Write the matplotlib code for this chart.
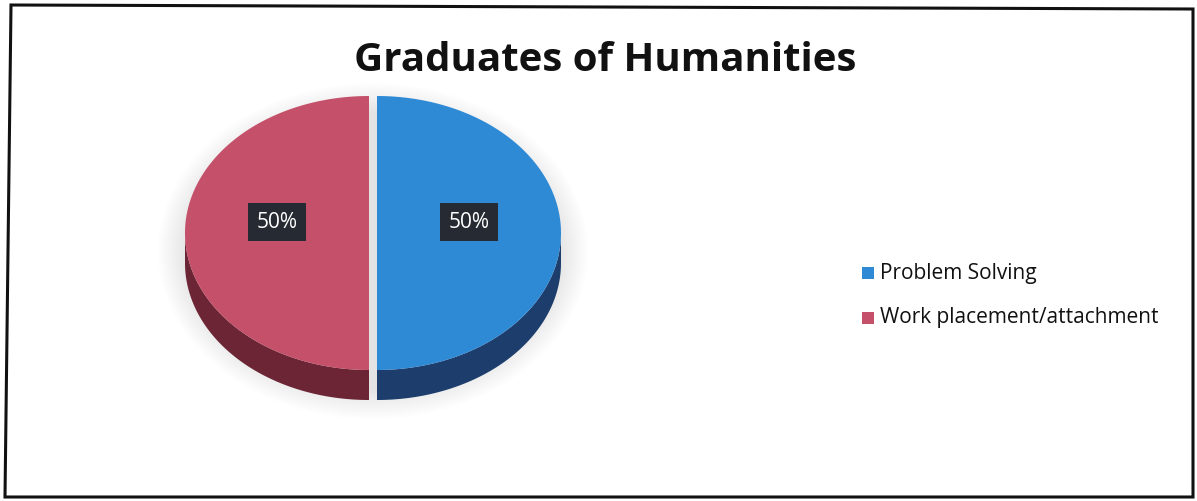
import matplotlib.pyplot as plt
import numpy as np
from matplotlib.patches import Polygon, Rectangle

categories = ["Problem Solving", "Work placement/attachment"]
shares = [50, 50]
pct_labels = ["50%", "50%"]

TOP_COLORS = ["#2f8ad6", "#c4506a"]
SIDE_COLORS = ["#1d3e6c", "#6b2535"]

W, H = 1197, 501
CX, CY = 373, 233          # centre of the pie's top face (pixels)
RX, RY = 184, 137          # ellipse radii
DEPTH = 30                 # thickness of the disc
EXPLODE = 4


def ellipse_pts(a0, a1, dx, dy, n=200):
    t = np.radians(np.linspace(a0, a1, n))
    return CX + dx + RX * np.cos(t), CY + dy - RY * np.sin(t)


fig = plt.figure(figsize=(W / 100, H / 100), dpi=100)
ax = fig.add_axes([0, 0, 1, 1])
ax.set_xlim(0, W)
ax.set_ylim(H, 0)
ax.axis("off")

# soft shadow beneath the disc
t = np.linspace(0, 2 * np.pi, 200)
for k in range(14):
    grow = 2 + k * 2.2
    ax.fill(CX + (RX + grow) * np.cos(t), CY + DEPTH * 0.6 + (RY + grow) * np.sin(t),
            color="#9aa0a8", alpha=0.018, lw=0, zorder=1)

# wedges go clockwise from 12 o'clock
total = sum(shares)
start = 90.0
for i, (val, top, side) in enumerate(zip(shares, TOP_COLORS, SIDE_COLORS)):
    sweep = 360.0 * val / total
    a1 = start
    a0 = start - sweep
    mid = np.radians((a0 + a1) / 2)
    dx = EXPLODE * np.cos(mid)
    dy = -EXPLODE * np.sin(mid)

    # front side wall: the part of the arc facing the viewer (180..360 deg)
    for base in (-360, 0, 360):
        s, e = max(a0, 180 + base), min(a1, 360 + base)
        if e <= s:
            continue
        xs, ys = ellipse_pts(s, e, dx, dy)
        px = np.concatenate([xs, xs[::-1]])
        py = np.concatenate([ys, ys[::-1] + DEPTH])
        ax.add_patch(Polygon(np.column_stack([px, py]), closed=True,
                             facecolor=side, edgecolor="none", zorder=2))

    # cut faces along the radii that point towards the viewer
    seam_x = CX + dx
    for ang in (a0, a1):
        ex, ey = ellipse_pts(ang, ang, dx, dy, n=1)
        if np.sin(np.radians(ang)) < 0:
            ax.add_patch(Polygon([[seam_x, CY + dy], [ex[0], ey[0]],
                                  [ex[0], ey[0] + DEPTH], [seam_x, CY + dy + DEPTH]],
                                 closed=True, facecolor=side, edgecolor="none", zorder=2))

    xs, ys = ellipse_pts(a0, a1, dx, dy)
    px = np.concatenate([[CX + dx], xs])
    py = np.concatenate([[CY + dy], ys])
    ax.add_patch(Polygon(np.column_stack([px, py]), closed=True,
                         facecolor=top, edgecolor="none", zorder=3))

    lx = CX + dx + 0.5 * RX * np.cos(mid)
    ly = CY + dy - 0.5 * RY * np.sin(mid) - 11
    ax.text(lx, ly, pct_labels[i], color="white", fontsize=15,
            family="Open Sans", ha="center", va="center", zorder=5,
            bbox=dict(boxstyle="square,pad=0.4", facecolor="#262b33",
                      edgecolor="none"))
    start = a0

ax.text(605, 60, "Graduates of Humanities", fontsize=29, fontweight="bold",
        family="Open Sans", ha="center", va="center", color="#111111")

# legend
for j, (name, col) in enumerate(zip(categories, TOP_COLORS)):
    y = 273 + j * 45
    ax.add_patch(Rectangle((862, y - 6), 12, 12, facecolor=col, edgecolor="none"))
    ax.text(880, y, name, fontsize=15, family="Open Sans", ha="left", va="center",
            color="#111111")

# chart border
ax.add_patch(Polygon([[11, 5], [1193, 9], [1193, 497], [5, 497]], closed=True,
                     fill=False, edgecolor="#111111", lw=2.2, zorder=6))

fig.savefig("out.png", dpi=100)
